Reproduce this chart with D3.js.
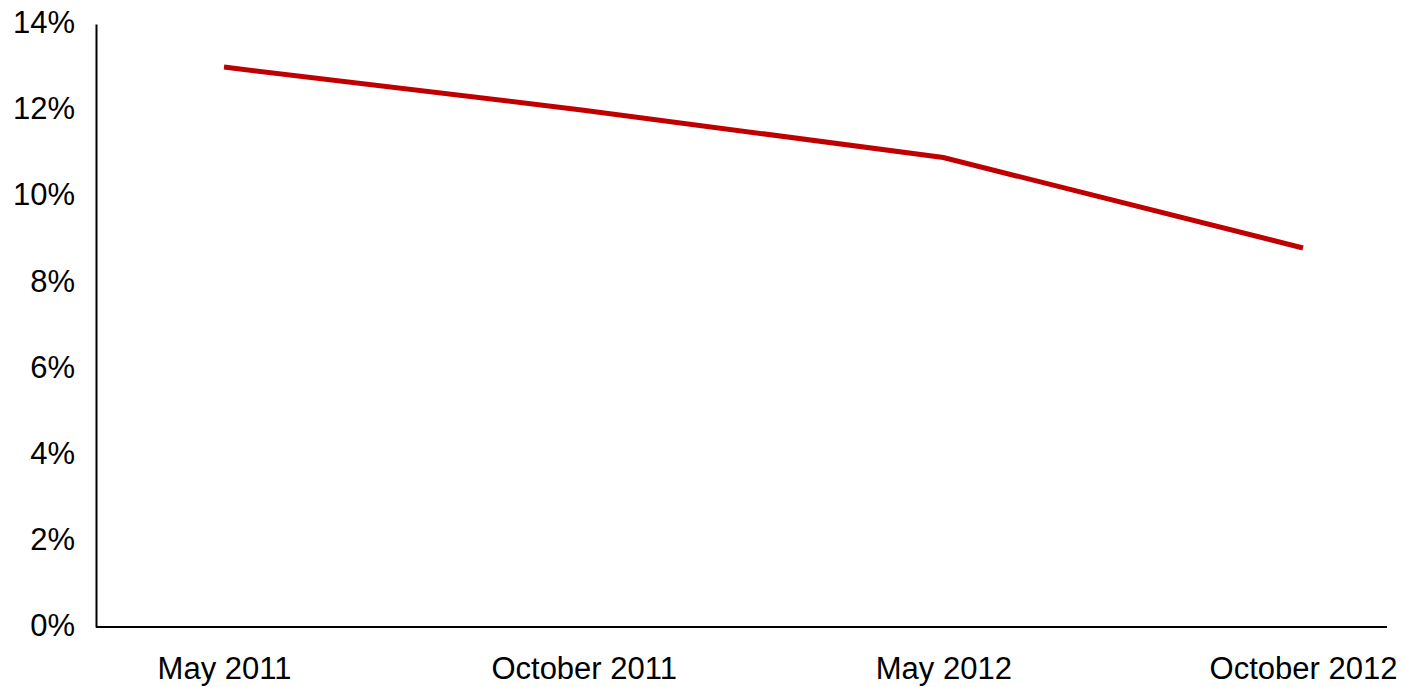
<!DOCTYPE html>
<html>
<head>
<meta charset="utf-8">
<script src="https://cdn.jsdelivr.net/npm/d3@7"></script>
<style>
  html, body { margin: 0; padding: 0; background: #fff; }
  svg { display: block; }
  .axis text { font-family: "Liberation Sans", Arial, sans-serif; font-size: 31px; fill: #000; }
</style>
</head>
<body>
<svg id="chart"></svg>
<script>
// Data
const categories = ["May 2011", "October 2011", "May 2012", "October 2012"];
const rates = [13.0, 12.0, 10.9, 8.8];
const yTicks = [0, 2, 4, 6, 8, 10, 12, 14];

const width = 1403, height = 687;
const margin = { top: 24, right: 16, bottom: 60, left: 96 };
const plotBottom = height - margin.bottom;

const svg = d3.select("#chart")
  .attr("width", width)
  .attr("height", height);

// Scales
const x = d3.scalePoint()
  .domain(categories)
  .range([224, 1303]);

const y = d3.scaleLinear()
  .domain([0, 14])
  .range([plotBottom, margin.top]);

// Y axis
svg.append("g")
  .attr("class", "axis")
  .attr("transform", `translate(${margin.left},0)`)
  .call(d3.axisLeft(y).tickValues(yTicks).tickSize(0).tickSizeOuter(0).tickPadding(21).tickFormat(d => d + "%"))
  .call(g => g.select(".domain").attr("stroke", "#000").attr("stroke-width", 2))
  .call(g => g.selectAll(".tick text").attr("dy", "0.28em"));

// X axis (labels only, baseline drawn across the plot)
svg.append("g")
  .attr("class", "axis")
  .attr("transform", `translate(0,${plotBottom})`)
  .call(d3.axisBottom(x).tickSize(0).tickPadding(30))
  .call(g => g.select(".domain").remove());

svg.append("line")
  .attr("x1", margin.left)
  .attr("x2", width - margin.right)
  .attr("y1", plotBottom)
  .attr("y2", plotBottom)
  .attr("stroke", "#000")
  .attr("stroke-width", 2);

// The line
const data = categories.map((c, i) => ({ cat: c, value: rates[i] }));

svg.append("path")
  .datum(data)
  .attr("fill", "none")
  .attr("stroke", "#C00000")
  .attr("stroke-width", 5)
  .attr("d", d3.line()
    .x(d => x(d.cat))
    .y(d => y(d.value)));
</script>
</body>
</html>
